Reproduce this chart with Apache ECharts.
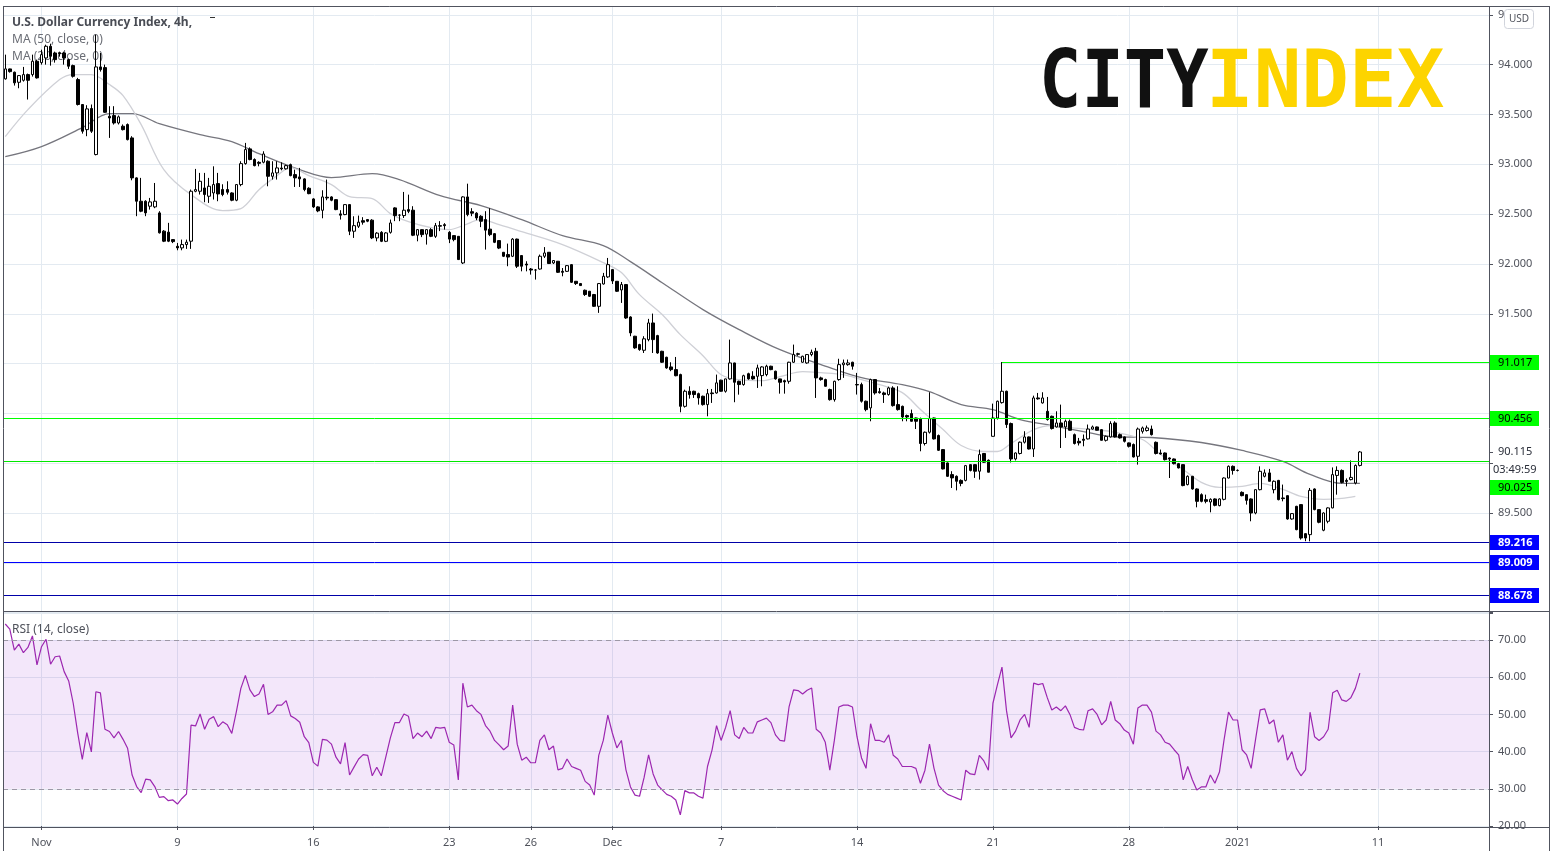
<!DOCTYPE html>
<html><head><meta charset="utf-8">
<script src="https://cdn.jsdelivr.net/npm/echarts@6/dist/echarts.min.js"></script>
<style>html,body{margin:0;padding:0;background:#fff;overflow:hidden}#c{width:1556px;height:851px}</style>
</head><body><div id="c"></div><script>
// ---------------- DATA ----------------
const slotCount = 328; // 300 candles + empty future space
const dateTickIdx = [8, 38, 68, 98, 116, 134, 158, 188, 218, 248, 272, 303];
const dateTickLabels = ['Nov', '9', '16', '23', '26', 'Dec', '7', '14', '21', '28', '2021', '11'];
const priceTicks = [89.5, 91.5, 92.0, 92.5, 93.0, 93.5, 94.0, 94.5];
const rsiTicks = [20, 30, 40, 50, 60, 70];
// [open, close, low, high]
const candles = [
[93.857,93.957,93.85,94.10],[93.957,93.93,93.92,93.96],[93.924,93.817,93.79,93.93],[93.823,93.89,93.763,93.895],
[93.843,93.90,93.83,93.977],[93.90,93.843,93.65,93.91],[93.90,94.034,93.88,94.10],[94.034,93.867,93.86,94.05],
[94.02,94.10,94.0,94.15],[94.067,94.184,94.0,94.20],[94.184,94.084,93.99,94.21],[94.117,94.05,94.02,94.13],
[94.12,94.11,94.08,94.13],[94.117,94.067,94.0,94.13],[94.05,93.984,93.957,94.06],[93.99,93.883,93.87,94.0],
[93.85,93.60,93.59,93.867],[93.60,93.332,93.308,93.60],[93.348,93.556,93.282,93.593],[93.56,93.332,93.315,93.60],
[93.098,93.977,93.09,94.30],[93.977,93.95,93.93,94.117],[93.97,93.522,93.516,94.0],[93.482,93.465,93.265,93.583],
[93.489,93.415,93.399,93.583],[93.415,93.476,93.40,93.49],[93.382,93.348,93.34,93.40],[93.399,93.248,93.24,93.41],
[93.265,92.864,92.84,93.282],[92.864,92.63,92.48,92.87],[92.63,92.53,92.52,92.864],[92.63,92.513,92.48,92.64],
[92.58,92.623,92.546,92.663],[92.573,92.63,92.56,92.813],[92.513,92.313,92.306,92.53],[92.33,92.229,92.22,92.34],
[92.32,92.229,92.22,92.413],[92.245,92.225,92.21,92.25],[92.178,92.162,92.138,92.212],[92.162,92.195,92.138,92.245],
[92.195,92.219,92.152,92.245],[92.229,92.73,92.152,92.747],[92.73,92.747,92.72,92.954],[92.73,92.83,92.697,92.914],
[92.763,92.697,92.62,92.914],[92.68,92.78,92.613,92.864],[92.713,92.797,92.647,92.98],[92.807,92.703,92.63,92.914],
[92.747,92.697,92.68,92.80],[92.747,92.72,92.697,92.83],[92.713,92.64,92.63,92.72],[92.64,92.797,92.63,92.80],
[92.797,93.007,92.78,93.031],[93.007,93.148,92.997,93.215],[93.155,93.048,93.04,93.17],[93.048,92.987,92.98,93.06],
[93.02,93.01,92.98,93.031],[93.021,93.104,93.01,93.131],[93.031,92.88,92.78,93.04],[92.88,92.914,92.847,93.031],
[92.914,92.964,92.847,93.031],[92.963,92.955,92.94,93.02],[92.955,92.987,92.947,92.997],[92.997,92.887,92.88,93.007],
[92.897,92.864,92.773,92.947],[92.874,92.854,92.773,92.964],[92.854,92.747,92.73,92.86],[92.76,92.706,92.70,92.77],
[92.653,92.573,92.563,92.66],[92.573,92.533,92.52,92.58],[92.539,92.673,92.459,92.74],[92.67,92.663,92.64,92.847],
[92.673,92.64,92.63,92.68],[92.646,92.546,92.54,92.65],[92.503,92.49,92.446,92.54],[92.496,92.596,92.49,92.60],
[92.596,92.329,92.29,92.60],[92.329,92.385,92.262,92.479],[92.379,92.42,92.362,92.486],[92.435,92.42,92.395,92.47],
[92.446,92.43,92.42,92.45],[92.44,92.262,92.25,92.45],[92.262,92.31,92.228,92.32],[92.318,92.228,92.22,92.33],
[92.228,92.312,92.22,92.32],[92.318,92.412,92.305,92.446],[92.563,92.486,92.43,92.57],[92.49,92.49,92.43,92.50],
[92.486,92.54,92.462,92.723],[92.546,92.529,92.51,92.696],[92.54,92.289,92.28,92.58],[92.289,92.345,92.228,92.35],
[92.345,92.295,92.27,92.35],[92.30,92.345,92.195,92.35],[92.345,92.278,92.27,92.36],[92.278,92.385,92.262,92.412],
[92.385,92.38,92.33,92.43],[92.395,92.385,92.345,92.41],[92.318,92.25,92.21,92.33],[92.285,92.245,92.228,92.29],
[92.278,92.045,92.04,92.28],[92.011,92.673,92.0,92.68],[92.673,92.496,92.479,92.806],[92.525,92.51,92.48,92.56],
[92.51,92.462,92.44,92.52],[92.479,92.429,92.37,92.49],[92.446,92.34,92.145,92.53],[92.35,92.295,92.28,92.56],
[92.305,92.218,92.21,92.31],[92.235,92.16,92.15,92.24],[92.118,92.078,92.07,92.12],[92.095,92.07,91.978,92.205],
[92.078,92.25,92.07,92.26],[92.25,91.978,91.96,92.255],[92.085,91.978,91.927,92.09],[92.0,91.99,91.927,92.028],
[91.95,91.94,91.894,91.96],[91.94,91.94,91.844,91.95],[91.95,92.078,91.944,92.095],[92.078,92.111,92.06,92.17],
[92.118,92.005,92.0,92.12],[92.011,92.035,92.0,92.04],[92.028,91.917,91.91,92.03],[91.927,91.917,91.877,91.96],
[91.927,91.984,91.92,91.99],[91.994,91.817,91.81,92.0],[91.827,91.804,91.79,91.83],[91.804,91.784,91.78,91.81],
[91.737,91.694,91.68,91.744],[91.727,91.677,91.67,91.73],[91.694,91.576,91.57,91.70],[91.576,91.804,91.51,91.81],
[91.80,91.877,91.794,91.911],[91.871,91.994,91.861,92.061],[91.944,91.83,91.80,91.95],[91.827,91.727,91.72,91.83],
[91.74,91.794,91.61,91.82],[91.794,91.459,91.45,91.80],[91.469,91.309,91.276,91.476],[91.276,91.159,91.15,91.28],
[91.192,91.142,91.13,91.20],[91.135,91.25,91.108,91.276],[91.242,91.409,91.225,91.45],[91.409,91.242,91.108,91.503],
[91.282,91.108,91.10,91.29],[91.125,91.015,91.008,91.13],[91.065,90.958,90.95,91.07],[90.968,90.941,90.925,91.015],
[90.941,90.88,90.874,91.068],[90.891,90.573,90.513,90.90],[90.573,90.724,90.56,90.74],[90.724,90.691,90.65,90.774],
[90.724,90.691,90.657,90.73],[90.70,90.657,90.59,90.71],[90.674,90.59,90.58,90.68],[90.59,90.70,90.473,90.747],
[90.707,90.70,90.607,90.747],[90.707,90.808,90.70,90.891],[90.835,90.724,90.72,90.84],[90.724,90.848,90.71,90.85],
[90.848,91.008,90.84,91.242],[91.008,90.814,90.614,91.01],[90.824,90.791,90.69,90.83],[90.791,90.88,90.78,90.89],
[90.90,90.848,90.84,90.91],[90.874,90.848,90.84,90.925],[90.874,90.958,90.757,90.991],[90.881,90.968,90.774,90.975],
[90.891,90.975,90.874,90.99],[90.975,90.941,90.935,90.98],[90.925,90.848,90.84,90.93],[90.848,90.814,90.70,90.85],
[90.83,90.818,90.70,90.84],[90.824,91.015,90.80,91.02],[91.015,91.092,91.008,91.192],[91.10,91.095,91.08,91.11],
[91.015,91.075,91.01,91.08],[91.008,91.092,91.00,91.095],[91.092,91.115,91.075,91.142],[91.125,90.858,90.657,91.159],
[90.858,90.841,90.83,90.87],[90.841,90.774,90.77,90.85],[90.741,90.64,90.63,90.75],[90.64,90.824,90.62,90.83],
[90.841,90.991,90.83,91.05],[90.99,91.008,90.858,91.042],[90.991,91.008,90.98,91.042],[91.015,90.975,90.941,91.02],
[90.791,90.788,90.691,90.908],[90.791,90.624,90.61,90.81],[90.624,90.54,90.523,90.63],[90.557,90.841,90.423,90.85],
[90.841,90.707,90.69,90.845],[90.72,90.71,90.70,90.757],[90.707,90.691,90.607,90.72],[90.691,90.757,90.68,90.77],
[90.757,90.58,90.57,90.774],[90.59,90.54,90.53,90.774],[90.573,90.466,90.423,90.58],[90.48,90.466,90.423,90.49],
[90.50,90.423,90.42,90.54],[90.456,90.423,90.345,90.46],[90.45,90.20,90.122,90.46],[90.20,90.313,90.18,90.32],
[90.313,90.45,90.30,90.714],[90.456,90.246,90.24,90.46],[90.28,90.132,90.125,90.29],[90.139,89.945,89.94,90.145],
[90.005,89.871,89.865,90.01],[89.888,89.855,89.754,89.922],[89.871,89.821,89.73,89.88],[89.83,89.80,89.771,89.84],
[89.83,89.978,89.82,89.985],[89.988,89.93,89.92,89.99],[89.988,89.922,89.855,89.99],[89.922,90.089,89.838,90.139],
[90.10,90.012,90.005,90.105],[90.032,89.912,89.91,90.04],[90.272,90.456,90.27,90.60],[90.456,90.624,90.44,90.63],
[90.61,90.724,90.60,91.017],[90.724,90.39,90.356,90.73],[90.40,90.045,90.01,90.41],[90.045,90.105,90.03,90.11],
[90.10,90.213,90.09,90.22],[90.213,90.266,90.20,90.323],[90.266,90.145,90.14,90.27],[90.145,90.657,90.065,90.68],
[90.657,90.648,90.64,90.707],[90.607,90.657,90.60,90.714],[90.523,90.44,90.43,90.667],[90.473,90.35,90.34,90.48],
[90.366,90.406,90.36,90.523],[90.406,90.366,90.155,90.59],[90.366,90.423,90.256,90.44],[90.423,90.333,90.33,90.44],
[90.289,90.20,90.19,90.30],[90.222,90.206,90.18,90.256],[90.243,90.232,90.172,90.29],[90.246,90.345,90.24,90.39],
[90.345,90.366,90.34,90.38],[90.366,90.333,90.33,90.37],[90.339,90.232,90.23,90.345],[90.232,90.272,90.22,90.28],
[90.266,90.40,90.26,90.423],[90.406,90.266,90.26,90.423],[90.289,90.256,90.25,90.30],[90.266,90.222,90.21,90.27],
[90.206,90.172,90.16,90.21],[90.19,90.065,90.06,90.20],[90.072,90.345,89.988,90.36],[90.322,90.356,90.30,90.37],
[90.33,90.356,90.32,90.38],[90.345,90.289,90.28,90.38],[90.212,90.10,90.09,90.22],[90.105,90.095,90.09,90.139],
[90.105,90.038,90.03,90.11],[90.055,90.045,89.854,90.06],[90.045,89.998,89.99,90.05],[89.998,89.955,89.95,90.005],
[89.988,89.778,89.771,89.99],[89.788,89.871,89.78,89.88],[89.871,89.744,89.737,89.875],[89.744,89.62,89.56,89.75],
[89.687,89.62,89.61,89.70],[89.637,89.62,89.60,89.687],[89.613,89.64,89.51,89.65],[89.644,89.58,89.57,89.65],
[89.577,89.644,89.57,89.65],[89.64,89.854,89.63,89.86],[89.854,89.971,89.85,89.98],[89.971,89.93,89.888,89.98],
[89.93,89.93,89.92,89.94],[89.71,89.677,89.67,89.72],[89.687,89.63,89.587,89.69],[89.644,89.503,89.42,89.65],
[89.503,89.737,89.49,89.74],[89.737,89.921,89.73,89.971],[89.871,89.905,89.86,89.94],[89.905,89.821,89.82,89.945],
[89.737,89.821,89.70,89.83],[89.83,89.637,89.63,89.835],[89.654,89.647,89.62,89.788],[89.677,89.443,89.436,89.68],
[89.443,89.497,89.436,89.50],[89.570,89.336,89.33,89.575],[89.587,89.252,89.236,89.59],[89.296,89.252,89.22,89.30],
[89.286,89.73,89.219,89.754],[89.744,89.537,89.53,89.75],[89.537,89.41,89.40,89.54],[89.33,89.503,89.32,89.51],
[89.42,89.554,89.40,89.56],[89.554,89.888,89.55,89.96],[89.88,89.93,89.687,89.971],[89.93,89.81,89.80,89.94],
[89.83,89.82,89.77,89.85],[89.838,89.86,89.83,90.03],[89.804,89.98,89.79,89.99],[89.98,90.115,89.97,90.125]
];
// moving averages: [candle index, value]
const ma50Points = [[0,93.077],[8,93.178],[17,93.368],[23,93.509],[28,93.509],[34,93.408],[43,93.298],[50,93.228],[56,93.107],[65,92.947],[72,92.867],[81,92.907],[87,92.847],[96,92.686],[105,92.586],[114,92.445],[123,92.285],[132,92.185],[138,92.024],[145,91.813],[154,91.543],[162,91.342],[171,91.141],[182,90.961],[189,90.86],[198,90.79],[204,90.72],[211,90.59],[218,90.54],[224,90.44],[231,90.38],[238,90.32],[244,90.27],[253,90.26],[264,90.21],[273,90.13],[282,90.02],[288,89.89],[295,89.80],[299,89.80]];
const ma20Points = [[0,93.278],[5,93.549],[12,93.85],[15,93.90],[19,93.90],[23,93.80],[26,93.689],[30,93.398],[35,92.947],[41,92.696],[48,92.536],[52,92.556],[56,92.746],[60,92.887],[63,92.967],[67,92.887],[72,92.796],[76,92.676],[81,92.656],[85,92.506],[89,92.425],[94,92.365],[98,92.345],[101,92.385],[105,92.445],[109,92.395],[114,92.325],[123,92.195],[132,92.014],[136,91.914],[140,91.693],[145,91.493],[149,91.292],[154,91.081],[158,90.89],[162,90.84],[167,90.83],[171,90.87],[176,90.92],[180,90.91],[185,90.89],[189,90.84],[193,90.79],[198,90.71],[202,90.54],[207,90.34],[211,90.18],[216,90.12],[219,90.12],[222,90.20],[227,90.34],[231,90.38],[235,90.36],[240,90.34],[244,90.32],[251,90.24],[255,90.09],[260,89.94],[264,89.81],[268,89.76],[273,89.77],[277,89.80],[282,89.74],[286,89.67],[291,89.64],[295,89.65],[298,89.67]];
// RSI(14) values, one per candle (index 0 .. 299)
const rsiValues = [
74.3,72.9,67.3,68.9,66.6,68.0,71.1,63.3,68.2,70.2,63.5,65.5,65.7,61.5,59.0,53.0,44.9,37.9,45.1,39.9,
56.1,55.8,46.0,45.4,43.7,45.4,43.3,40.9,33.7,30.6,29.0,32.6,32.4,30.6,27.7,27.9,26.8,27.0,25.9,27.4,
28.6,47.1,46.9,50.1,46.0,48.7,49.4,46.7,48.0,47.2,44.9,50.7,57.0,60.5,56.6,54.8,55.5,58.1,50.0,50.7,
52.5,52.5,53.7,49.6,48.9,47.9,44.0,42.4,37.1,36.1,43.3,43.1,42.0,38.5,36.7,42.4,33.7,35.9,38.0,39.2,
39.0,33.5,35.8,33.5,38.6,43.7,47.8,47.8,50.1,49.5,43.5,45.0,44.0,45.5,43.5,46.5,46.3,46.5,42.5,41.8,
32.4,58.4,52.0,52.5,51.0,50.0,47.0,45.5,43.0,41.8,40.5,41.5,52.5,42.0,37.7,38.5,37.0,37.0,43.0,44.5,
40.5,41.5,35.1,35.5,38.0,36.0,35.5,35.0,32.0,31.0,28.3,39.0,43.0,49.8,45.0,41.0,43.0,35.1,30.5,28.3,
28.0,33.0,39.1,34.0,31.0,29.7,28.5,28.0,27.0,23.0,29.5,28.9,28.9,28.0,27.5,36.0,40.4,47.0,43.0,46.5,
51.0,44.5,43.5,46.5,45.0,45.0,48.0,48.5,49.0,47.8,44.5,43.0,42.8,52.0,56.6,56.4,55.5,56.5,57.1,46.0,
45.0,42.5,35.0,43.0,52.0,52.5,52.5,52.0,44.0,38.3,35.5,47.5,43.0,43.0,42.5,44.5,39.0,38.0,36.0,36.0,
36.0,35.5,31.5,35.0,42.0,35.5,31.0,29.5,28.5,28.0,27.5,27.0,35.0,34.0,33.8,39.0,37.5,35.0,53.0,58.0,
62.7,51.0,43.7,45.5,48.5,50.0,46.5,58.4,58.0,58.3,54.5,51.2,52.0,51.0,52.3,50.0,46.5,46.0,45.8,51.0,
51.5,50.0,47.2,48.5,53.5,48.5,47.5,45.8,45.0,42.0,51.7,52.5,52.5,50.6,45.5,44.5,42.5,42.0,40.5,39.1,
32.4,36.0,32.5,29.7,30.5,30.5,33.7,31.5,34.5,43.0,50.6,48.5,48.5,40.5,39.1,35.5,43.5,51.2,51.5,47.5,
48.5,42.5,44.5,37.7,40.0,35.5,33.5,35.1,50.6,44.0,43.0,44.0,46.0,55.8,56.5,53.9,53.5,54.5,57.0,61.1
];
// horizontal levels drawn on the chart
const greenLevels = [90.456, 90.025];
const greenRayLevel = { startIdx: 220, value: 91.017 };
const blueLevels = [89.216, 89.009, 88.678];
const lastPrice = 90.115;
const countdown = '03:49:59';

// ---------------- CHART ----------------
const FONT = '"Noto Sans", "DejaVu Sans", sans-serif';
const gridColor = '#e3eaf1';
const axisText = '#4f525b';
const frameColor = '#50535e';
const slots = Array.from({ length: slotCount }, (_, i) => String(i));
const labelMap = {};
dateTickIdx.forEach((k, j) => { labelMap[k] = dateTickLabels[j]; });
const isTick = (idx) => labelMap[idx] !== undefined;
const near = (v, arr) => arr.some(t => Math.abs(t - v) < 1e-6);

const chart = echarts.init(document.getElementById('c'), null, { renderer: 'canvas' });

function xAxisFor(gridIndex, showLabels) {
  return {
    type: 'category', gridIndex, data: slots, boundaryGap: true,
    axisLine: { show: false },
    axisTick: { show: showLabels, alignWithLabel: true, length: 4, interval: isTick, lineStyle: { color: frameColor } },
    axisLabel: { show: showLabels, interval: isTick, formatter: (v) => labelMap[+v] || '', color: axisText, fontSize: 11, fontFamily: FONT, margin: 11 },
    splitLine: { show: true, alignWithLabel: true, interval: isTick, lineStyle: { color: gridColor, width: 1 } }
  };
}

const option = {
  animation: false,
  backgroundColor: '#ffffff',
  grid: [
    { left: 3, top: 6, width: 1486, height: 607 },
    { left: 3, top: 612, width: 1486, height: 214 }
  ],
  xAxis: [xAxisFor(0, false), xAxisFor(1, true)],
  yAxis: [
    {
      type: 'value', gridIndex: 0, position: 'right', min: 88.5, max: 94.588, interval: 0.5,
      axisLine: { show: false },
      axisTick: { show: true, inside: false, length: 4, lineStyle: { color: frameColor } },
      axisLabel: { color: axisText, fontSize: 11, fontFamily: FONT, margin: 9,
        formatter: (v) => near(v, priceTicks) ? v.toFixed(3) : '' },
      splitLine: { show: true, lineStyle: { color: gridColor } }
    },
    {
      type: 'value', gridIndex: 1, position: 'right', min: 20, max: 77.53, interval: 10,
      axisLine: { show: false },
      axisTick: { show: true, length: 4, lineStyle: { color: frameColor } },
      axisLabel: { color: axisText, fontSize: 11, fontFamily: FONT, margin: 9,
        formatter: (v) => near(v, rsiTicks) ? v.toFixed(2) : '' },
      splitLine: { show: true, lineStyle: { color: gridColor } }
    }
  ],
  series: [
    {
      name: 'MA50', type: 'line', xAxisIndex: 0, yAxisIndex: 0, data: ma50Points,
      smooth: 0.35, symbol: 'none', z: 2,
      lineStyle: { color: '#76767e', width: 1.3 }
    },
    {
      name: 'MA20', type: 'line', xAxisIndex: 0, yAxisIndex: 0, data: ma20Points,
      smooth: 0.35, symbol: 'none', z: 2,
      lineStyle: { color: '#cfd0d6', width: 1.3 }
    },
    {
      name: 'DXY', type: 'candlestick', xAxisIndex: 0, yAxisIndex: 0, data: candles,
      barWidth: 3, z: 3,
      itemStyle: { color: '#ffffff', color0: '#000000', borderColor: '#000000', borderColor0: '#000000', borderWidth: 1 }
    },
    {
      name: 'RSI', type: 'line', xAxisIndex: 1, yAxisIndex: 1, data: rsiValues,
      symbol: 'none', z: 3,
      lineStyle: { color: '#9c27b0', width: 1.2 },
      markArea: { silent: true, itemStyle: { color: 'rgba(155,60,210,0.12)' }, data: [[{ yAxis: 30 }, { yAxis: 70 }]] },
      markLine: {
        silent: true, symbol: ['none', 'none'], label: { show: false },
        lineStyle: { color: '#9d98a6', type: [5, 4], width: 1 },
        data: [{ yAxis: 70 }, { yAxis: 30 }]
      }
    }
  ]
};
chart.setOption(option);

// ---------- overlay: frame, level lines, texts, price labels ----------
const yP = (v) => chart.convertToPixel({ yAxisIndex: 0 }, v);
const xP = (i) => chart.convertToPixel({ xAxisIndex: 0 }, i);
const crisp = (y) => Math.round(y) + 0.5;
const priceBox = (v, y, bg, fg, bold) => ({
  type: 'group', x: 1489, y: Math.round(y) - 7, z: 50,
  children: [
    { type: 'rect', z: 50, shape: { x: 0, y: 0, width: 50, height: 15 }, style: { fill: bg } },
    { type: 'text', z: 51, x: 9, y: 8, style: { text: v.toFixed(3), fill: fg, font: (bold ? 'bold ' : '') + '11px ' + FONT, verticalAlign: 'middle', align: 'left' } }
  ]
});
const hLine = (x1, x2, y, color, z) => ({ type: 'line', z: z || 60, silent: true, shape: { x1, y1: y, x2, y2: y }, style: { stroke: color, lineWidth: 1 } });
const vLine = (x, y1, y2, color) => ({ type: 'line', z: 60, silent: true, shape: { x1: x, y1, x2: x, y2 }, style: { stroke: color, lineWidth: 1 } });

const graphics = [
  // level lines
  hLine(3, 1489, crisp(yP(greenLevels[0])), '#00ff00', 10),
  hLine(3, 1489, crisp(yP(greenLevels[1])), '#00e800', 10),
  hLine(xP(greenRayLevel.startIdx), 1489, crisp(yP(greenRayLevel.value)), '#00ff00', 10),
  hLine(3, 1489, crisp(yP(blueLevels[0])), '#0000a8', 10),
  hLine(3, 1489, crisp(yP(blueLevels[1])), '#0000ff', 10),
  hLine(3, 1489, crisp(yP(blueLevels[2])), '#0000a8', 10),
  // frame
  hLine(3, 1550, 6.5, frameColor),
  hLine(3, 1550, 611.5, frameColor),
  hLine(3, 1550, 827.5, frameColor),
  vLine(3.5, 6, 851, frameColor),
  vLine(1489.5, 6, 851, frameColor),
  vLine(1549.5, 6, 851, frameColor),
  // title / legend texts (under the candles)
  { type: 'text', x: 12, y: 23, z: 1, style: { text: 'U.S. Dollar Currency Index, 4h,', font: 'bold 12px ' + FONT, fill: '#4a4d55', verticalAlign: 'middle' } },
  { type: 'rect', x: 210, y: 17, z: 1, shape: { width: 5, height: 1 }, style: { fill: '#333' } },
  { type: 'text', x: 12, y: 40, z: 1, style: { text: 'MA (50, close, 0)', font: '12px ' + FONT, fill: '#6a6d75', verticalAlign: 'middle' } },
  { type: 'text', x: 12, y: 57, z: 1, style: { text: 'MA (20, close, 0)', font: '12px ' + FONT, fill: '#6a6d75', verticalAlign: 'middle' } },
  { type: 'text', x: 12, y: 630, z: 1, style: { text: 'RSI (14, close)', font: '12px ' + FONT, fill: '#4f525b', verticalAlign: 'middle' } },
  // logo
  { type: 'text', x: 1039, y: 86, z: 40, scaleX: 0.88, style: { text: 'CITY', font: 'bold 80px "DejaVu Sans Mono"', fill: '#111111', verticalAlign: 'middle' } },
  { type: 'text', x: 1206, y: 86, z: 40, scaleX: 0.99, style: { text: 'INDEX', font: 'bold 80px "DejaVu Sans Mono"', fill: '#fdd400', verticalAlign: 'middle' } },
  // USD badge
  { type: 'rect', x: 1504.5, y: 9.5, z: 55, shape: { width: 29, height: 19, r: 3 }, style: { fill: '#ffffff', stroke: '#d1d4dc', lineWidth: 1 } },
  { type: 'text', x: 1519, y: 19, z: 56, style: { text: 'USD', font: '10px ' + FONT, fill: '#4f525b', align: 'center', verticalAlign: 'middle' } },
  // level labels
  priceBox(greenRayLevel.value, yP(greenRayLevel.value), '#00ff00', '#000000', false),
  priceBox(greenLevels[0], yP(greenLevels[0]), '#00ff00', '#000000', false),
  priceBox(greenLevels[1], yP(greenLevels[1]) + 26, '#00ff00', '#000000', false),
  priceBox(blueLevels[0], yP(blueLevels[0]), '#0000ff', '#ffffff', true),
  priceBox(blueLevels[1], yP(blueLevels[1]), '#0000ff', '#ffffff', true),
  priceBox(blueLevels[2], yP(blueLevels[2]), '#0000ff', '#ffffff', true),
  // last price + countdown
  hLine(1489, 1493, crisp(yP(lastPrice)), frameColor),
  { type: 'text', x: 1498, y: yP(lastPrice), z: 56, style: { text: lastPrice.toFixed(3), font: '11px ' + FONT, fill: '#2a2e39', verticalAlign: 'middle' } },
  { type: 'text', x: 1493, y: yP(lastPrice) + 18, z: 56, style: { text: countdown, font: '11px ' + FONT, fill: '#2a2e39', verticalAlign: 'middle' } }
];
chart.setOption({ graphic: graphics });
</script></body></html>
